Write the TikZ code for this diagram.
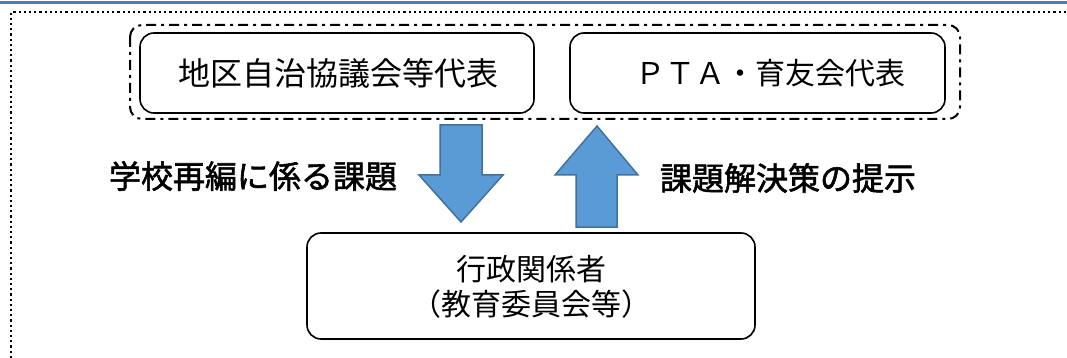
\documentclass[tikz,border=0pt]{standalone}
\usepackage{fontspec}
\newfontfamily\jp{Noto Sans CJK JP}
\newfontfamily\jpb{Noto Sans CJK JP}[FakeBold=1.8]
\definecolor{topblue}{HTML}{4A7EBB}
\definecolor{arrfill}{HTML}{5B9BD5}
\definecolor{arrline}{HTML}{41719C}
\begin{document}
\begin{tikzpicture}[x=1pt,y=-1pt,
  rbox/.style={draw=black,line width=1.6pt,rounded corners=14pt,fill=white},
  btext/.style={font=\jp\fontsize{30}{35}\selectfont,inner sep=0pt},
  bigtext/.style={font=\jp\fontsize{32}{35}\selectfont,inner sep=0pt},
  ltext/.style={font=\jpb\fontsize{32}{36}\selectfont,inner sep=0pt},
  blockarrow/.style={fill=arrfill,draw=arrline,line width=1.5pt,line join=miter}]
\useasboundingbox (0,0) rectangle (1067,358);
% top rule and dotted frame
\draw[topblue,line width=3pt] (0,2.5) -- (1067,2.5);
\draw[line width=2.2pt,dash pattern=on 2.2pt off 3pt] (11,358) -- (11,12) -- (1067,12);
% group frame
\draw[line width=2pt,rounded corners=12pt,dash pattern=on 10pt off 5pt on 3pt off 5pt] (130,25) rectangle (960,119);
% top boxes
\draw[rbox] (140,33) rectangle (534,113);
\node[bigtext] (a) at (338,73) {地区自治協議会等代表};
\draw[rbox] (570,33) rectangle (945,113);
\node[btext] (b) at (770,73) {ＰＴＡ・育友会代表};
% bottom box
\draw[rbox] (307,233) rectangle (755,339);
\node[btext,align=center] (c) at (531,287) {行政関係者\\（教育委員会等）};
% arrows
\draw[blockarrow] (440,125) -- (482,125) -- (482,175) -- (503,175) -- (461,222) -- (419,175) -- (440,175) -- cycle;
\draw[blockarrow] (576,227) -- (617,227) -- (617,175) -- (638,175) -- (597,126) -- (555,175) -- (576,175) -- cycle;
% labels
\node[ltext] (l1) at (253,176) {学校再編に係る課題};
\node[ltext] (l2) at (788,178) {課題解決策の提示};
\end{tikzpicture}
\end{document}
